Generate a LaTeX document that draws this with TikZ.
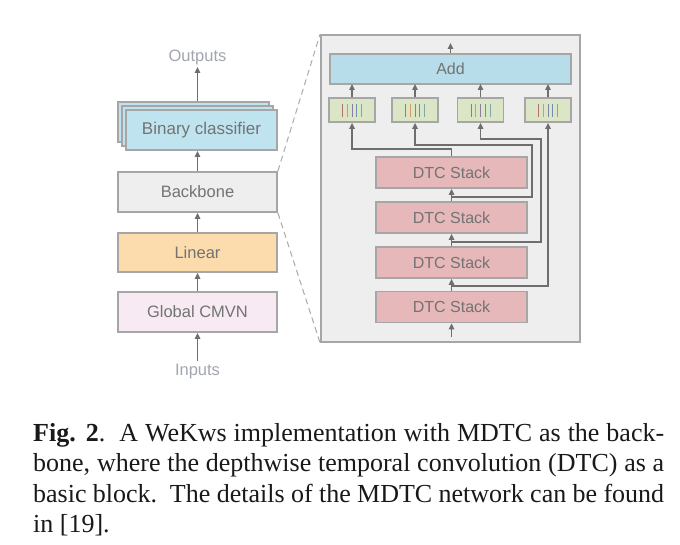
\documentclass[tikz,border=0pt]{standalone}
\usepackage{fontspec}
\setmainfont{Liberation Serif}
\newfontfamily\labfont{Liberation Sans}
\usetikzlibrary{arrows.meta}
\definecolor{bordc}{HTML}{A6A6A6}
\definecolor{arrc}{HTML}{6E6E6E}
\definecolor{txtc}{HTML}{737373}
\definecolor{iotxt}{HTML}{A2A6AE}
\definecolor{panelc}{HTML}{EEEEEE}
\definecolor{addc}{HTML}{B6DDE9}
\definecolor{bcc}{HTML}{BFE4EF}
\definecolor{convc}{HTML}{DAE6C6}
\definecolor{dtcc}{HTML}{E6B8B9}
\definecolor{linc}{HTML}{FCDCAC}
\definecolor{cmvnc}{HTML}{F8EAF2}
\definecolor{dashc}{HTML}{ABABAB}
\definecolor{barA}{HTML}{B0706E}
\definecolor{barB}{HTML}{8A7FA0}
\definecolor{barC}{HTML}{D49A66}
\definecolor{barD}{HTML}{6E8FB8}
\definecolor{barE}{HTML}{7FA9A8}
\begin{document}
\begin{tikzpicture}[x=1pt,y=-1pt,
  box/.style={draw=bordc, line width=1.8pt, inner sep=0pt, font=\labfont\fontsize{16}{19}\selectfont, text=txtc},
  arr/.style={draw=arrc, line width=1.3pt, -{Triangle[length=6pt,width=5.5pt]}},
  iolab/.style={inner sep=0pt, font=\labfont\fontsize{16.5}{19}\selectfont, text=iotxt},
  dashln/.style={draw=dashc, line width=1pt, dash pattern=on 6pt off 4pt},
  convbox/.style={box, fill=convc, minimum width=46pt, minimum height=24pt},
  dtcbox/.style={box, fill=dtcc, minimum width=151pt, minimum height=31pt},
  leftbox/.style={box, minimum width=159pt, minimum height=40pt, font=\labfont\fontsize{16.5}{19}\selectfont}
]
\useasboundingbox (0,0) rectangle (680,545);
\fill[white] (0,0) rectangle (680,545);

% ---------- left column ----------
\node[leftbox, fill=panelc] (bb) at (197.5,192) {Backbone};
\node[leftbox, fill=linc, minimum height=39pt] (lin) at (197.5,252.5) {Linear};
\node[leftbox, fill=cmvnc] (cmvn) at (197.5,312) {Global CMVN};
\node[box, fill=bcc, minimum width=151pt, minimum height=40pt] (bc3) at (193.5,122) {};
\node[box, fill=bcc, minimum width=151pt, minimum height=40pt] (bc2) at (197.5,126) {};
\node[box, fill=bcc, minimum width=151pt, minimum height=40pt, font=\labfont\fontsize{17}{19}\selectfont] (bc1) at (201.5,130) {Binary classifier};
\node[iolab] (out) at (197.5,57) {Outputs};
\node[iolab] (inp) at (197.5,372) {Inputs};
\coordinate (outa) at (197.5,67);
\coordinate (inpa) at (197.5,361);

\draw[arr] (197.5,101) -- (outa);
\draw[arr] (bb.north) -- (197.5,151);
\draw[arr] (lin.north) -- (bb.south);
\draw[arr] (cmvn.north) -- (lin.south);
\draw[arr] (inpa) -- (cmvn.south);

% ---------- right panel ----------
\node[draw=bordc, line width=1.8pt, fill=panelc, minimum width=259pt, minimum height=307pt, inner sep=0pt] (panel) at (450.5,188.5) {};
\draw[dashln] (bb.north east) -- (panel.north west);
\draw[dashln] (bb.south east) -- (panel.south west);

\node[box, fill=addc, minimum width=241pt, minimum height=30pt] (add) at (450.5,69) {Add};
\coordinate (topa) at (450.5,43);
\draw[arr] (add.north) -- (topa);

\foreach \n/\x in {c1/352, c2/415, c3/480.5, c4/548} {
  \node[convbox] (\n) at (\x,110) {};
  \draw[arr] (\n.north) -- (\x,84);
  \foreach \i/\cl in {0/barA, 1/barC, 2/barB, 3/barD, 4/barE} {
    \draw[\cl, line width=1pt] (\x-9.5+4.75*\i,104) -- (\x-9.5+4.75*\i,117);
  }
}

\node[dtcbox] (s1) at (451.5,172.5) {DTC Stack};
\node[dtcbox] (s2) at (451.5,217.5) {DTC Stack};
\node[dtcbox] (s3) at (451.5,262.5) {DTC Stack};
\node[dtcbox] (s4) at (451.5,307) {DTC Stack};
\coordinate (bin) at (451.5,337);

\draw[arr] (bin) -- (s4.south);
\draw[arr] (s4.north) -- (s3.south);
\draw[arr] (s3.north) -- (s2.south);
\draw[arr] (s2.north) -- (s1.south);

\coordinate (j1) at (451.5,197);
\coordinate (j2) at (451.5,242);
\coordinate (j3) at (451.5,286);

\draw[arr] (s1.north) -- ++(0,-7) -| (c1.south);
\draw[arr] (j1) -| ++(80.5,-52) -| (c2.south);
\draw[arr] (j2) -| ++(89.5,-103) -| (c3.south);
\draw[arr] (j3) -| (c4.south);

% ---------- caption ----------
\node[anchor=north west, inner sep=0pt, text width=631pt, align=justify,
      font=\fontsize{26}{30.4}\selectfont, text=black!90] (cap) at (33,423)
  {\textbf{Fig. 2}.\ \ A WeKws implementation with MDTC as the back-\linebreak bone, where the depthwise temporal convolution (DTC) as a\linebreak basic block.\ \ The details of the MDTC network can be found\linebreak in [19].};
\end{tikzpicture}
\end{document}
